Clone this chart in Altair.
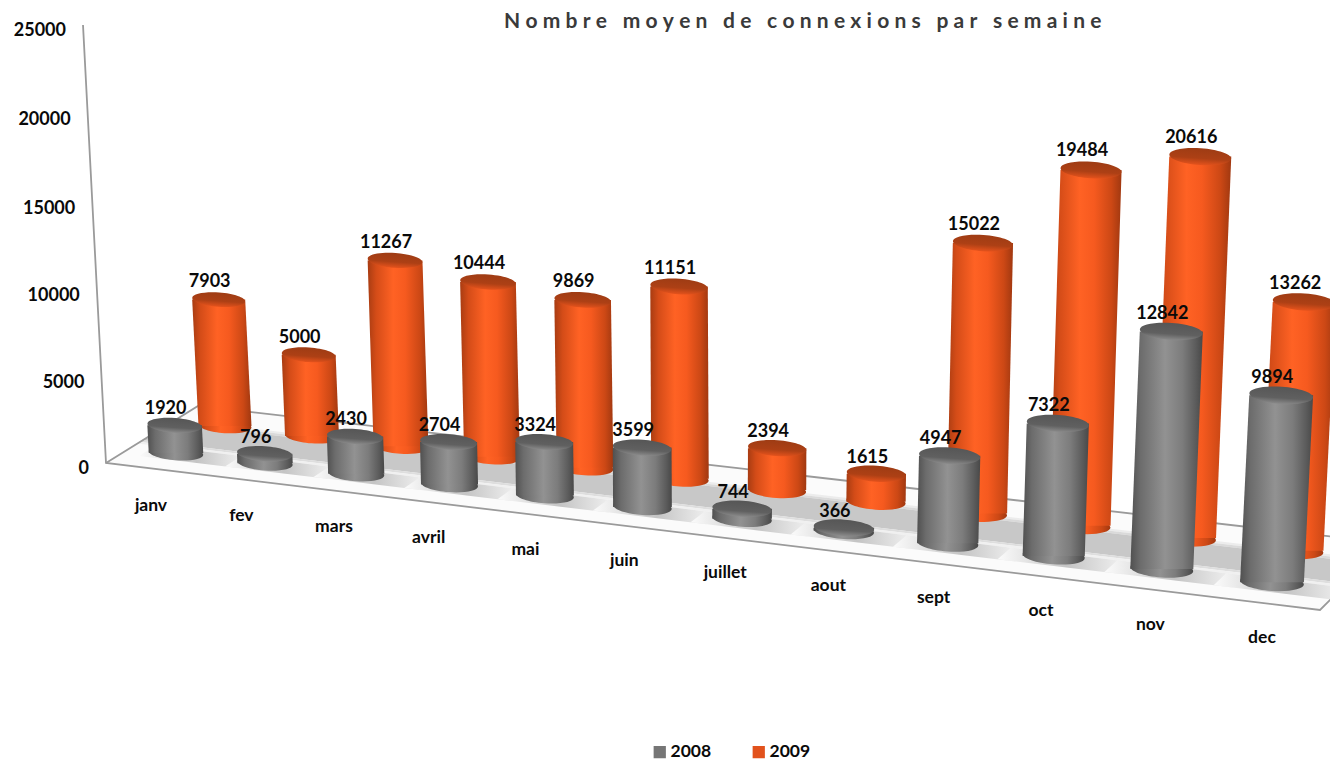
import altair as alt
import pandas as pd

months = ["janv", "fev", "mars", "avril", "mai", "juin", "juillet", "aout", "sept", "oct", "nov", "dec"]
v2008 = [1920, 796, 2430, 2704, 3324, 3599, 744, 366, 4947, 7322, 12842, 9894]
v2009 = [7903, 5000, 11267, 10444, 9869, 11151, 2394, 1615, 15022, 19484, 20616, 13262]
ticks = [0, 5000, 10000, 15000, 20000, 25000]
series = ["2008", "2009"]
title = "Nombre moyen de connexions par semaine"

W, H = 1322, 752
xs = alt.Scale(domain=[8, 1330], nice=False, zero=False)
ys = alt.Scale(domain=[760, 8], nice=False, zero=False)
X = lambda f: alt.X(f, type="quantitative", scale=xs, axis=None)
Y = lambda f: alt.Y(f, type="quantitative", scale=ys, axis=None)

# oblique projection of the 3-D chart: (month index, series) -> page position
PROJ = {
    "2008": dict(x=(176, 88.0, 1.058), y=(453, 10.0, 0.16), w=(54.5, 0.85), s=(14.5, 0.40)),
    "2009": dict(x=(225, 86.0, 1.0), y=(426, 9.9, 0.13), w=(53.0, 0.9), s=(16.0, 0.25)),
}


def cyl(name, values):
    p = PROJ[name]
    rows = []
    for i, v in enumerate(values):
        bx = p["x"][0] + p["x"][1] * i + p["x"][2] * i * i
        by = p["y"][0] + p["y"][1] * i + p["y"][2] * i * i
        w = p["w"][0] + p["w"][1] * i
        h = (p["s"][0] + p["s"][1] * i) * v / 1000 - 4 * (1 - min(v / 2000, 1))
        tilt = -0.05 + 0.009 * i
        rows.append(dict(i=i, month=months[i], series=name, value=v, bx=bx, by=by, tx=bx + tilt * h,
                         ty=by - h, w=w, size=w * w))
    return pd.DataFrame(rows)


def body(df):
    a = df.assign(py=df.by, l=df.bx - df.w / 2, r=df.bx + df.w / 2)
    b = df.assign(py=df.ty, l=df.tx - df.w / 2, r=df.tx + df.w / 2)
    return pd.concat([b, a])


d08, d09 = cyl("2008", v2008), cyl("2009", v2009)
ELL = "M-1,0A1,0.27 0 1,1 1,0A1,0.27 0 1,1 -1,0Z"


def hgrad(stops):
    return {"gradient": "linear", "x1": 0, "y1": 0, "x2": 1, "y2": 0,
            "stops": [{"offset": o, "color": c} for o, c in stops]}


def vgrad(stops):
    return {"gradient": "linear", "x1": 0, "y1": 0, "x2": 0, "y2": 1,
            "stops": [{"offset": o, "color": c} for o, c in stops]}


G_ORANGE = hgrad([(0, "#a83c12"), (0.14, "#d44c18"), (0.42, "#ff6224"), (0.62, "#f65a1f"), (0.86, "#cc4815"), (1, "#a03810")])
G_GRAY = hgrad([(0, "#505050"), (0.14, "#6c6c6c"), (0.48, "#929292"), (0.72, "#7c7c7c"), (0.9, "#5c5c5c"), (1, "#484848")])
C_ORANGE = vgrad([(0, "#9e3c14"), (0.6, "#ad4015"), (1, "#e4521c")])
C_GRAY = vgrad([(0, "#565656"), (0.65, "#606060"), (1, "#8a8a8a")])


def cylinders(df, grad, cap):
    bottom = alt.Chart(df).mark_point(filled=True, shape=ELL, angle=4, fill=grad, opacity=1, strokeWidth=0).encode(
        x=X("bx"), y=Y("by"), size=alt.Size("size:Q", scale=None, legend=None))
    side = alt.Chart(body(df)).mark_area(orient="horizontal", fill=grad, opacity=1).encode(
        y=Y("py"), x=X("l"), x2=alt.X2("r"), detail="i:N")
    top = alt.Chart(df).mark_point(filled=True, shape=ELL, angle=4, fill=cap, opacity=1, strokeWidth=0).encode(
        x=X("tx"), y=Y("ty"), size=alt.Size("size:Q", scale=None, legend=None))
    return [bottom, side, top]


# floor: depth d runs from the front edge (0) to the back edge (1)
def floor_pt(u, d):
    lx, ly = 106 + 92 * d, 463 - 57 * d
    rx, ry = 1320 + 67 * d, 610 - 67 * d
    return lx + (rx - lx) * u, ly + (ry - ly) * u


bands = [(0.0, 1.0, "#fbfbfb"), (0.73, 0.76, "#ececec"), (0.70, 0.73, "#dadada"), (0.40, 0.70, "#c8c8c8"),
         (0.37, 0.40, "#dedede"), (0.34, 0.37, "#f0f0f0")]
rows = []
for b, (d0, d1, col) in enumerate(bands):
    for k, (u, d) in enumerate([(0, d0), (1, d0), (1, d1), (0, d1), (0, d0)]):
        px, py = floor_pt(u, d)
        rows.append(dict(band=b, k=k, px=px, py=py))
fl = pd.DataFrame(rows)
floor_layers = [
    alt.Chart(fl[fl.band == b]).mark_line(fill=bands[b][2], strokeWidth=0, clip=True, stroke="transparent").encode(
        x=X("px"), y=Y("py"), order="k:Q")
    for b in range(len(bands))
]

# soft shadow patches on the floor under each front cylinder
G_PATCH = hgrad([(0, "#fbfbfb"), (0.5, "#c4c4c4"), (1, "#fbfbfb")])
prow = []
for i in range(len(months)):
    half = (0.041 + 0.0012 * i)
    uc = 0.056 + 0.0715 * i + 0.00095 * i * i
    for k, (u, d) in enumerate([(uc - half, 0.16), (uc + half, 0.16), (uc + half, 0.34), (uc - half, 0.34), (uc - half, 0.16)]):
        px, py = floor_pt(u, d)
        prow.append(dict(i=i, k=k, px=px, py=py))
patch_layer = alt.Chart(pd.DataFrame(prow)).mark_line(fill=G_PATCH, strokeWidth=0, clip=True, stroke="transparent").encode(
    x=X("px"), y=Y("py"), order="k:Q", detail="i:N")

edges = pd.DataFrame([
    dict(e=0, k=0, px=83, py=25), dict(e=0, k=1, px=106, py=463), dict(e=0, k=2, px=1320, py=610), dict(e=0, k=3, px=1387, py=543),
    dict(e=1, k=0, px=106, py=463), dict(e=1, k=1, px=198, py=406), dict(e=1, k=2, px=1387, py=543),
])
edge_layer = alt.Chart(edges).mark_line(color="#9a9a9a", strokeWidth=1.8, clip=True).encode(
    x=X("px"), y=Y("py"), detail="e:N", order="k:Q")

FONT = "Lato"
tk = pd.DataFrame({"v": ticks})
tk["k"] = tk.v / 5000
tk["px"] = 89 - 23 * tk.v / 25000
tk["py"] = 468.5 - 87.6 * tk.k + 0.5 * tk.k * (5 - tk.k)
tick_layer = alt.Chart(tk).mark_text(font=FONT, fontWeight="bold", fontSize=18, align="right", baseline="middle", color="#0a0a0a").encode(
    x=X("px"), y=Y("py"), text="v:Q")

cat = d08.assign(px=d08.bx - 25 + 1.36 * d08.i, py=d08.by + 53 + 0.27 * d08.i)
cat_layer = alt.Chart(cat).mark_text(font=FONT, fontWeight="bold", fontSize=17.5, align="center", baseline="middle", color="#0a0a0a").encode(
    x=X("px"), y=Y("py"), text="month:N")

both = pd.concat([d09, d08])
both["px"] = both.tx - 9
both["py"] = both.ty - 16 - both.value / 7000
label_layer = alt.Chart(both).mark_text(font=FONT, fontWeight="bold", fontSize=18, align="center", baseline="middle", color="#0a0a0a").encode(
    x=X("px"), y=Y("py"), text="value:Q")

legend_layer = alt.Chart(pd.DataFrame({"series": series, "px": [660, 759], "py": [752, 752]})).mark_square(opacity=0).encode(
    x=X("px"), y=Y("py"),
    color=alt.Color("series:N", scale=alt.Scale(domain=series, range=["#767676", "#e2521c"]), legend=alt.Legend(
        title=None, orient="none", legendX=643, legendY=735, direction="horizontal", symbolType="square", symbolSize=150,
        symbolOpacity=1, symbolStrokeWidth=0, labelFont=FONT, labelFontWeight="bold", labelFontSize=17.5, labelColor="#0a0a0a",
        labelOffset=2, columnPadding=38)))

layers = floor_layers + [patch_layer, edge_layer] + cylinders(d09, G_ORANGE, C_ORANGE) + cylinders(d08, G_GRAY, C_GRAY) + [
    tick_layer, cat_layer, label_layer, legend_layer]

spaced = "\u2009\u2009".join(title)
chart = alt.layer(*layers).properties(
    width=W, height=H, padding=0, autosize=alt.AutoSizeParams(type="none"),
    title=alt.TitleParams(spaced, anchor="start", dx=496, dy=28, font="Lato", fontWeight="bold", fontSize=21, color="#3a3a3a"),
).configure_view(stroke=None)

chart.save("out.html", embed_options={"renderer": "svg", "actions": False})
